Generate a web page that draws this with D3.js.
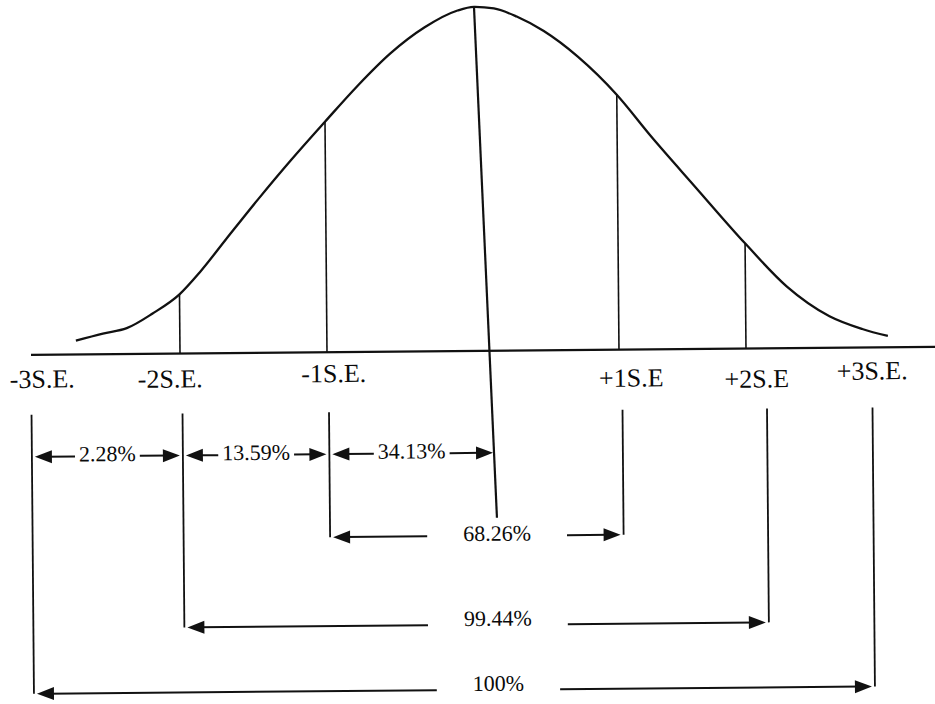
<!DOCTYPE html>
<html>
  <head>
    <title>Normal curve: areas between S.E. marks</title>
    <style>
      body { margin: 0; background: #fff; }
      svg text { font-family: "Liberation Serif", "Times New Roman", serif; fill: #0a0a0a; }
    </style>
  </head>
  <body>
    <script src="https://d3js.org/d3.v7.min.js"></script>
    <script>
      // S.E. marks on the base line
      const seValues = [-3, -2, -1, 1, 2, 3];
      const seLabels = ["-3S.E.", "-2S.E.", "-1S.E.", "+1S.E", "+2S.E", "+3S.E."];

      // the drawn curve (z in S.E., height as share of the peak)
      const curveZ = [-3, -2.74, -2.51, -2.26, -2, -1.86, -1.68, -1.46, -1.23, -1, -0.78, -0.56, -0.33, -0.11, 0,
                      0.14, 0.3, 0.49, 0.73, 1, 1.27, 1.61, 2, 2.29, 2.59, 2.82, 3];
      const curveHeight = [0.04, 0.06, 0.075, 0.117, 0.172, 0.236, 0.331, 0.446, 0.561, 0.67, 0.774, 0.867, 0.942, 0.99, 1,
                           0.995, 0.971, 0.928, 0.852, 0.741, 0.618, 0.472, 0.306, 0.18, 0.092, 0.054, 0.033];

      // areas between the marks
      const areaFrom = [-3, -2, -1, -1, -2, -3];
      const areaTo = [-2, -1, 0, 1, 2, 3];
      const areaLabels = ["2.28%", "13.59%", "34.13%", "68.26%", "99.44%", "100%"];
      const areaRow = [0, 0, 0, 1, 2, 3];

      const width = 935, height = 704;
      const baseY = 351;
      const zSteps = [-3, -2, -1, 0, 1, 2, 3];
      // the sketch is not evenly spaced, so both scales are piecewise
      const xCurve = d3.scaleLinear().domain(zSteps).range([76, 180, 327, 477, 619, 746, 888]);
      const xMark = d3.scaleLinear().domain(zSteps).range([31, 182, 328.5, 495.5, 622, 766.5, 872]);
      const y = d3.scaleLinear().domain([0, 1]).range([baseY, 7]);
      const rowY = d3.scaleOrdinal().domain([0, 1, 2, 3]).range([453, 536, 625, 690]);
      const rowTextDy = [5, 5, 1, 1];
      const rowGap = [4, 36, 36, 36];
      const markTop = 411;
      const centerBottom = 518;
      const labelNudge = [[11, -1], [-12, 0], [5, -4], [9, 3], [-10, 5], [0, -2]];

      // centre line leans from the peak down to the rows
      const centerX = d3.scaleLinear().domain([y(1), centerBottom]).range([xCurve(0), xMark(0)]);

      const svg = d3.select("body").append("svg")
        .attr("width", width)
        .attr("height", height);

      // the scan is turned by about half a degree
      const g = svg.append("g").attr("transform", "rotate(-0.5, 467, 352)");

      const ink = "#111";

      // base line
      g.append("line")
        .attr("x1", xMark(-3)).attr("x2", width + 10)
        .attr("y1", baseY).attr("y2", baseY)
        .attr("stroke", ink).attr("stroke-width", 2.2);

      // curve
      const pts = curveZ.map((z, i) => [z, curveHeight[i]]);
      const line = d3.line()
        .x((d) => xCurve(d[0]))
        .y((d) => y(d[1]))
        .curve(d3.curveMonotoneX);
      g.append("path")
        .attr("d", line(pts))
        .attr("fill", "none")
        .attr("stroke", ink)
        .attr("stroke-width", 2.3);

      // verticals from the curve to the base line
      g.selectAll("line.drop")
        .data([-2, -1, 1, 2])
        .enter()
        .append("line")
        .attr("class", "drop")
        .attr("x1", (d) => xCurve(d)).attr("x2", (d) => xCurve(d))
        .attr("y1", (d) => y(curveHeight[curveZ.indexOf(d)]))
        .attr("y2", baseY)
        .attr("stroke", ink).attr("stroke-width", 1.6);

      // centre line
      g.append("line")
        .attr("x1", centerX(y(1))).attr("y1", y(1))
        .attr("x2", centerX(centerBottom)).attr("y2", centerBottom)
        .attr("stroke", ink).attr("stroke-width", 2.2);

      // S.E. labels
      g.selectAll("text.se")
        .data(seValues)
        .enter()
        .append("text")
        .attr("class", "se")
        .attr("x", (d, i) => xMark(d) + labelNudge[i][0])
        .attr("y", (d, i) => 385 + labelNudge[i][1])
        .attr("text-anchor", "middle")
        .style("font-size", "26px")
        .text((d, i) => seLabels[i]);

      // bracket verticals go down to the lowest row that uses them
      const deepest = seValues.map((z) => {
        let r = 0;
        areaFrom.forEach((f, i) => {
          if (f === z || areaTo[i] === z) r = Math.max(r, areaRow[i]);
        });
        return r;
      });
      g.selectAll("line.mark")
        .data(seValues)
        .enter()
        .append("line")
        .attr("class", "mark")
        .attr("x1", (d) => xMark(d)).attr("x2", (d) => xMark(d))
        .attr("y1", markTop)
        .attr("y2", (d, i) => rowY(deepest[i]))
        .attr("stroke", ink).attr("stroke-width", 1.8);

      const arrow = (x0, x1, yy) => {
        const dir = Math.sign(x1 - x0);
        const headLen = 17, headHalf = 6.5;
        g.append("line")
          .attr("x1", x0).attr("x2", x1 - dir * headLen * 0.6)
          .attr("y1", yy).attr("y2", yy)
          .attr("stroke", ink).attr("stroke-width", 2);
        g.append("path")
          .attr("d", `M${x1},${yy}L${x1 - dir * headLen},${yy - headHalf}L${x1 - dir * headLen},${yy + headHalf}Z`)
          .attr("fill", ink);
      };

      // area labels with their arrows
      areaLabels.forEach((lab, i) => {
        const r = areaRow[i];
        const yy = rowY(r);
        const left = xMark(areaFrom[i]);
        const right = areaTo[i] === 0 ? centerX(yy) : xMark(areaTo[i]);
        const cx = r === 0 ? (left + right) / 2 : xMark(0);
        const t = g.append("text")
          .attr("x", cx)
          .attr("y", yy + rowTextDy[r])
          .attr("text-anchor", "middle")
          .style("font-size", "22px")
          .text(lab);
        const w = t.node().getComputedTextLength();
        arrow(cx - w / 2 - rowGap[r], left + 3, yy);
        arrow(cx + w / 2 + rowGap[r], right - (areaTo[i] === 0 ? 1 : 3), yy);
      });
    </script>
  </body>
</html>
